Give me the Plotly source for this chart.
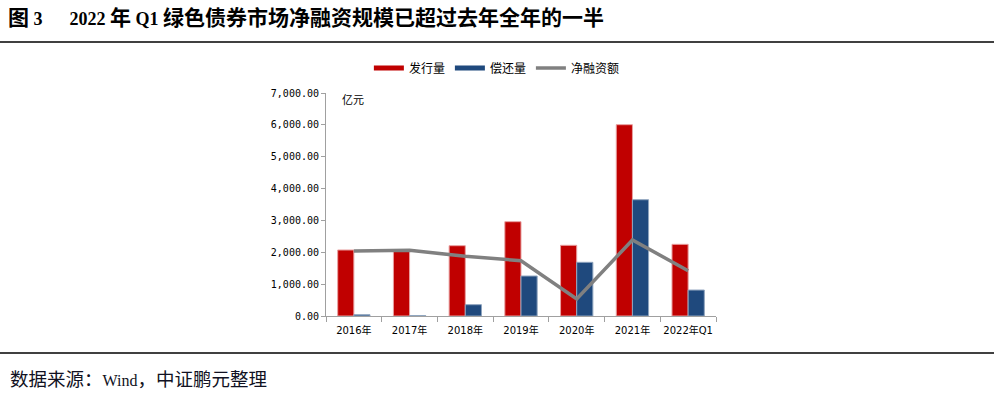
import plotly.graph_objects as go

categories = ["2016年", "2017年", "2018年", "2019年", "2020年", "2021年", "2022年Q1"]
issuance = [2072, 2040, 2207, 2960, 2219, 6005, 2250]
repayment = [40, 12, 355, 1255, 1685, 3650, 815]
net_financing = [2040, 2060, 1875, 1736, 534, 2385, 1422]
y_ticks = [0, 1000, 2000, 3000, 4000, 5000, 6000, 7000]
y_tick_text = ["0.00", "1,000.00", "2,000.00", "3,000.00", "4,000.00", "5,000.00", "6,000.00", "7,000.00"]
series_names = ["发行量", "偿还量", "净融资额"]
series_colors = ["#C00000", "#1F497D", "#808080"]

fig = go.Figure()
fig.add_trace(go.Bar(x=categories, y=issuance, name=series_names[0], showlegend=False,
                     marker=dict(color=series_colors[0], line=dict(color="#E8A0A0", width=1))))
fig.add_trace(go.Bar(x=categories, y=repayment, name=series_names[1], showlegend=False,
                     marker=dict(color=series_colors[1], line=dict(color="#8FA4BE", width=1))))
fig.add_trace(go.Scatter(x=categories, y=net_financing, name=series_names[2], mode="lines",
                         showlegend=False, line=dict(color=series_colors[2], width=3.5)))
# legend entries drawn as thick line swatches, like the reference
for nm, col, w in zip(series_names, series_colors, [5, 5, 3.5]):
    fig.add_trace(go.Scatter(x=[None], y=[None], name=nm, mode="lines",
                             line=dict(color=col, width=w)))

fig.update_layout(
    width=994, height=396,
    margin=dict(l=326, r=278, t=93, b=80, autoexpand=False),
    paper_bgcolor="white", plot_bgcolor="white",
    barmode="group", bargap=0.42, bargroupgap=0,
    font=dict(family="DejaVu Sans, Noto Sans CJK SC", size=10, color="#000000"),
    showlegend=True,
    legend=dict(orientation="h", x=(496 - 326) / 388, xanchor="center", xref="paper",
                y=1 + 25 / 223, yref="paper", yanchor="middle",
                font=dict(size=12, family="Noto Sans CJK SC"), itemwidth=30,
                traceorder="normal", bgcolor="rgba(0,0,0,0)"),
    xaxis=dict(type="category", showline=True, linecolor="#A0A0A0", linewidth=1,
               ticks="outside", tickson="boundaries", ticklen=5, tickcolor="#A0A0A0",
               tickangle=0, automargin=False, showgrid=False, ticklabelstandoff=5,
               tickfont=dict(size=10, family="DejaVu Sans, Noto Sans CJK SC")),
    yaxis=dict(range=[0, 7000], tickvals=y_ticks, ticktext=y_tick_text, showline=True,
               linecolor="#A0A0A0", linewidth=1, ticks="outside", ticklen=4,
               automargin=False, tickcolor="#A0A0A0", showgrid=False, zeroline=False,
               tickfont=dict(size=10, family="DejaVu Sans Mono, DejaVu Sans")),
)

cjk_t = '<span style="font-size:21px">'
title = ("<b>" + cjk_t + "图</span> 3\u2003\u2002" + "2022 " + cjk_t + "年</span> Q1 "
         + cjk_t + "绿色债券市场净融资规模已超过去年全年的一半</span></b>")
fig.add_annotation(text=title,
                   xref="paper", yref="paper", x=-318/388, y=1 + 75/223, xanchor="left",
                   yanchor="middle", showarrow=False,
                   font=dict(family="Liberation Serif, Noto Sans CJK SC", size=18, color="#000"))
cjk_s = '<span style="font-size:18.5px">'
source = cjk_s + "数据来源：</span>Wind" + cjk_s + "，中证鹏元整理</span>"
fig.add_annotation(text=source,
                   xref="paper", yref="paper", x=-316/388, y=-(380-316)/223, xanchor="left",
                   yanchor="middle", showarrow=False,
                   font=dict(family="Liberation Serif, Noto Sans CJK SC", size=16, color="#111122"))
fig.add_annotation(text="亿元", xref="paper", yref="paper", x=14/388, y=1 - 6/223,
                   xanchor="left", yanchor="middle", showarrow=False,
                   font=dict(size=11, family="Noto Sans CJK SC"))

fig.add_shape(type="line", xref="paper", yref="paper", x0=-326/388, x1=(994-326)/388,
              y0=1 + 51/223, y1=1 + 51/223, line=dict(color="#000", width=1.5))
fig.add_shape(type="line", xref="paper", yref="paper", x0=-326/388, x1=(994-326)/388,
              y0=-(353-316)/223, y1=-(353-316)/223, line=dict(color="#000", width=1.5))

fig.write_html("out.html", config={"displayModeBar": False},
               post_script="document.body.style.margin='0';")
